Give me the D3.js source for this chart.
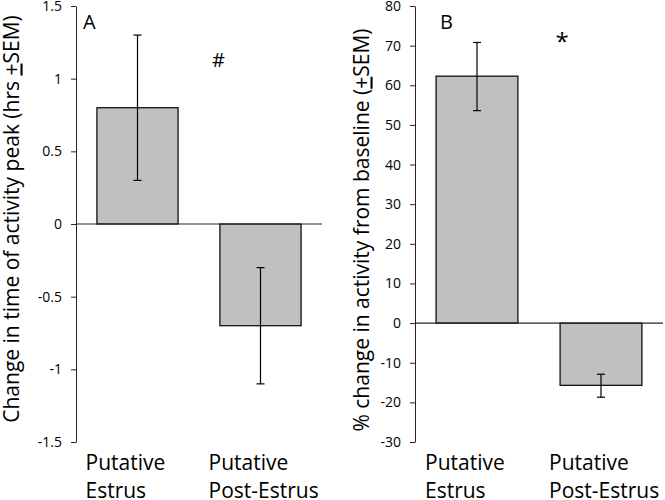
<!DOCTYPE html>
<html>
<head>
<meta charset="utf-8">
<script src="https://cdn.jsdelivr.net/npm/d3@7"></script>
<style>
  html, body { margin: 0; padding: 0; background: #fff; }
  svg { display: block; font-family: "Open Sans", sans-serif; }
</style>
</head>
<body>
<svg id="chart" width="665" height="500"></svg>
<script>
// ---- Data ----
const categories = ["Putative Estrus", "Putative Post-Estrus"];
const categoryLines = [["Putative", "Estrus"], ["Putative", "Post-Estrus"]];

// Panel A: change in time of activity peak (hrs)
const peakShift = [0.8, -0.7];
const peakErrLow = [0.3, -1.1];
const peakErrHigh = [1.3, -0.3];
const peakTicks = [-1.5, -1, -0.5, 0, 0.5, 1, 1.5];
const peakTickLabels = ["-1.5", "-1", "-0.5", "0", "0.5", "1", "1.5"];

// Panel B: % change in activity from baseline
const activityChange = [62.3, -15.7];
const activityErrLow = [53.6, -18.7];
const activityErrHigh = [70.8, -12.9];
const activityTicks = [-30, -20, -10, 0, 10, 20, 30, 40, 50, 60, 70, 80];
const activityTickLabels = ["-30", "-20", "-10", "0", "10", "20", "30", "40", "50", "60", "70", "80"];

const panelLetters = ["A", "B"];
const significanceMarks = ["#", "*"];
const yTitleA = ["Change in time of activity peak (hrs ", "+", "SEM)"];
const yTitleB = ["% change in activity from baseline (", "+", "SEM)"];

// ---- Drawing ----
const svg = d3.select("#chart");
const axisColor = "#262626";

function drawPanel(cfg) {
  const g = svg.append("g");
  const y = d3.scaleLinear().domain(cfg.domain).range([442, 6]);
  const x = d3.scaleBand().domain(categories).range([cfg.left, cfg.right])
    .paddingInner(0.34).paddingOuter(0.17);

  // y axis
  const axis = d3.axisLeft(y).tickValues(cfg.ticks)
    .tickFormat((d, i) => cfg.tickLabels[i]).tickSize(5).tickPadding(9).tickSizeOuter(0);
  const ga = g.append("g").attr("transform", `translate(${cfg.left},0)`).call(axis);
  ga.select(".domain").attr("stroke", axisColor);
  ga.selectAll(".tick line").attr("stroke", axisColor);
  ga.selectAll(".tick text").attr("fill", "#000").style("font-size", "14px")
    .style("font-family", "'Open Sans', sans-serif");

  // bars
  g.selectAll("rect.bar").data(cfg.values).join("rect")
    .attr("class", "bar")
    .attr("x", (d, i) => x(categories[i]))
    .attr("width", x.bandwidth())
    .attr("y", d => y(Math.max(0, d)))
    .attr("height", d => Math.abs(y(d) - y(0)))
    .attr("fill", "#c0c0c0")
    .attr("stroke", "#000")
    .attr("stroke-width", 1.2);

  // zero line
  g.append("line")
    .attr("x1", cfg.left).attr("x2", cfg.right)
    .attr("y1", y(0)).attr("y2", y(0))
    .attr("stroke", axisColor).attr("stroke-width", 1.2);

  // error bars
  const cap = 4;
  cfg.values.forEach((v, i) => {
    const cx = x(categories[i]) + x.bandwidth() / 2;
    const lo = cfg.errLow[i], hi = cfg.errHigh[i];
    g.append("line").attr("x1", cx).attr("x2", cx)
      .attr("y1", y(lo)).attr("y2", y(hi)).attr("stroke", "#000").attr("stroke-width", 1.2);
    [lo, hi].forEach(e => {
      g.append("line").attr("x1", cx - cap).attr("x2", cx + cap)
        .attr("y1", y(e)).attr("y2", y(e)).attr("stroke", "#000").attr("stroke-width", 1.2);
    });
  });

  // category labels (two lines, left aligned block)
  categoryLines.forEach((lines, i) => {
    const cx = x(categories[i]) + x.bandwidth() / 2;
    lines.forEach((t, j) => {
      g.append("text").attr("x", cx - 52).attr("y", 470 + j * 28)
        .attr("fill", "#000").style("font-size", "21px").text(t);
    });
  });

  // panel letter
  g.append("text").attr("x", cfg.left + cfg.letterDx).attr("y", 29)
    .style("font-size", "20px").attr("fill", "#000").text(cfg.letter);

  // significance mark (above second category)
  const cx2 = x(categories[1]) + x.bandwidth() / 2;
  g.append("text").attr("x", cx2 + cfg.markDx).attr("y", cfg.markY)
    .attr("text-anchor", "middle").style("font-size", cfg.markSize).attr("fill", "#000")
    .text(cfg.mark);

  // y title
  const title = g.append("text")
    .attr("transform", `translate(${cfg.titleX},${cfg.titleY}) rotate(-90)`)
    .attr("text-anchor", "middle").style("font-size", "21px").attr("fill", "#000");
  title.append("tspan").text(cfg.title[0]);
  title.append("tspan").style("text-decoration", "underline").text(cfg.title[1]);
  title.append("tspan").text(cfg.title[2]);
}

drawPanel({
  domain: [-1.5, 1.5], ticks: peakTicks, tickLabels: peakTickLabels,
  left: 76, right: 322, values: peakShift, errLow: peakErrLow, errHigh: peakErrHigh,
  letter: panelLetters[0], letterDx: 7, mark: significanceMarks[0], markDx: -42, markY: 67, markSize: "20px",
  title: yTitleA, titleX: 18.5, titleY: 219
});

drawPanel({
  domain: [-30, 80], ticks: activityTicks, tickLabels: activityTickLabels,
  left: 415, right: 663, values: activityChange, errLow: activityErrLow, errHigh: activityErrHigh,
  letter: panelLetters[1], letterDx: 25, mark: significanceMarks[1], markDx: -39, markY: 50, markSize: "24px",
  title: yTitleB, titleX: 368.5, titleY: 230
});
</script>
</body>
</html>
